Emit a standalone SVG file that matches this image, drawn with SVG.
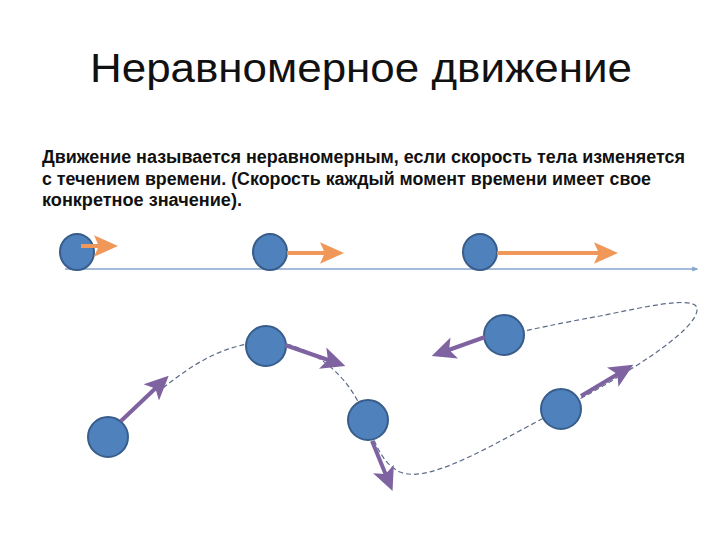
<svg xmlns="http://www.w3.org/2000/svg" width="720" height="540" viewBox="0 0 720 540">
<style>
.title{font-family:"Liberation Sans","DejaVu Sans",sans-serif;font-size:41px;fill:#111}
.body{font-family:"Liberation Sans","DejaVu Sans",sans-serif;font-size:18px;font-weight:bold;fill:#111}
.ball{fill:#4f81bd;stroke:#385d8a;stroke-width:2}
.vo{stroke:#f0975a;stroke-width:4;fill:none;marker-end:url(#ho)}
.vp{stroke:#7f63a1;stroke-width:4;fill:none;marker-end:url(#hp)}
.path{stroke:#5b6b88;stroke-width:1.2;fill:none;stroke-dasharray:5 3}
.axis{stroke:#86a6cc;stroke-width:1.6;fill:none;marker-end:url(#ha)}
</style>
<defs>
<marker id="ho" markerWidth="6" markerHeight="6" refX="3" refY="3" orient="auto" markerUnits="strokeWidth" viewBox="0 0 6 6">
<path d="M0,0.3 L6,3 L0,5.7 L1.2,3 Z" fill="#f0975a"/>
</marker>
<marker id="hp" markerWidth="6" markerHeight="6" refX="3" refY="3" orient="auto" markerUnits="strokeWidth" viewBox="0 0 6 6">
<path d="M0,0.2 L6,3 L0,5.8 L1.4,3 Z" fill="#7f63a1"/>
</marker>
<marker id="ha" markerWidth="4" markerHeight="4" refX="3" refY="2" orient="auto" markerUnits="strokeWidth" viewBox="0 0 4 4">
<path d="M0,0.5 L4,2 L0,3.5 Z" fill="#86a6cc"/>
</marker>
</defs>
<text class="title" x="361" y="82" text-anchor="middle" textLength="542" lengthAdjust="spacingAndGlyphs">Неравномерное движение</text>
<text class="body" x="42" y="163" textLength="643" lengthAdjust="spacingAndGlyphs">Движение называется неравномерным, если скорость тела изменяется</text>
<text class="body" x="42" y="185" textLength="609" lengthAdjust="spacingAndGlyphs">с течением времени. (Скорость каждый момент времени имеет свое</text>
<text class="body" x="42" y="206" textLength="200" lengthAdjust="spacingAndGlyphs">конкретное значение).</text>
<g id="connectors">
<path class="axis" d="M65 269 L697 269"/>
<path class="path" d="M163 388 C195 362 225 345 262 342 C305 340 345 370 362 410 C372 432 378 462 400 472 C430 485 500 440 561 409 C620 378 700 330 697 308 C694 295 640 308 600 316 C560 323 530 330 504 335"/>
</g>
<g id="top1"><ellipse class="ball" cx="77" cy="252" rx="17" ry="18"/><path class="vo" d="M81 246 L106 246"/></g>
<g id="top2"><ellipse class="ball" cx="270" cy="252" rx="17" ry="18"/><path class="vo" d="M287 253 L332 253"/></g>
<g id="top3"><ellipse class="ball" cx="480" cy="252" rx="17" ry="18"/><path class="vo" d="M497 253 L606 253"/></g>
<g id="b1"><circle class="ball" cx="108" cy="437" r="20"/><path class="vp" d="M121 421 L160 384"/></g>
<g id="b2"><circle class="ball" cx="266" cy="346" r="20"/><path class="vp" d="M285 345 L334 362"/></g>
<g id="b3"><circle class="ball" cx="368" cy="420" r="20"/><path class="vp" d="M372 441 L388 480"/></g>
<g id="b4"><circle class="ball" cx="504" cy="335" r="20"/><path class="vp" d="M485 337 L443 352"/></g>
<g id="b5"><circle class="ball" cx="561" cy="409" r="20"/><path class="vp" d="M581 396 L623 371"/></g>
</svg>
